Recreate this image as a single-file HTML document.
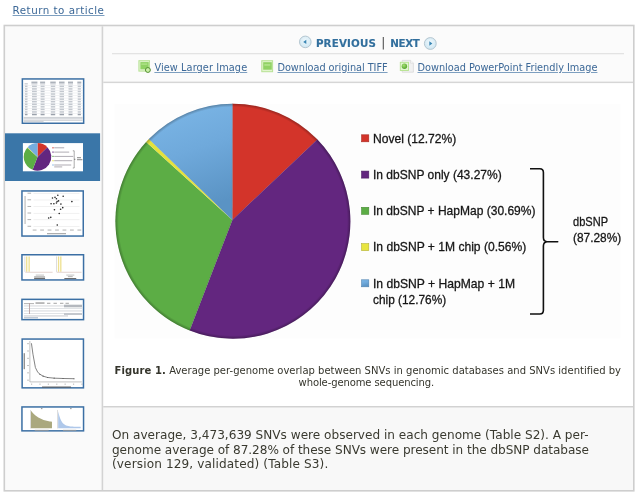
<!DOCTYPE html>
<html>
<head>
<meta charset="utf-8">
<title>Figure 1</title>
<style>
html,body{margin:0;padding:0;background:#fff;}
body{width:640px;height:498px;position:relative;overflow:hidden;font-family:"DejaVu Sans","Liberation Sans",sans-serif;}
a{color:#3c6897;text-decoration:underline;}
.abs{position:absolute;white-space:nowrap;}
#ret{left:12.6px;top:3.3px;font-size:10.3px;line-height:14px;letter-spacing:0.5px;text-decoration-color:#7d9fc0;text-underline-offset:1.2px;text-decoration-thickness:1px;}
.lnk{font-size:9.75px;line-height:12px;top:62.1px;text-decoration-color:#7d9fc0;text-decoration-thickness:1px;text-underline-offset:1px;}
.nav{font-size:10.3px;line-height:13px;font-weight:bold;color:#326f9d;top:36.6px;-webkit-text-stroke:0.12px #326f9d;}
.cap{font-size:10px;line-height:13px;color:#35352c;}
.txt{font-size:12.1px;line-height:14.5px;color:#3a3a30;}
</style>
</head>
<body>
<a class="abs" id="ret">Return to article</a>
<svg class="abs" style="left:0;top:0" width="640" height="498" viewBox="0 0 640 498">
  <rect x="5.1" y="26.3" width="96.5" height="463.7" fill="#fafafa"/>
  <rect x="103.2" y="26.3" width="529.8" height="55.3" fill="#fbfbfb"/>
  <rect x="103.2" y="407.5" width="529.8" height="82.5" fill="#f8f8f8"/>
  <rect x="101.6" y="26.3" width="1.6" height="463.7" fill="#d3d3d3"/>
  <rect x="103.2" y="81.6" width="529.8" height="1.5" fill="#d6d6d6"/>
  <rect x="112" y="53.2" width="512" height="1" fill="#dcdcdc"/>
  <rect x="103.2" y="406" width="529.8" height="1.5" fill="#d2d2d2"/>
  <rect x="4.3" y="25.5" width="629.5" height="465.3" fill="none" stroke="#cecece" stroke-width="1.6"/>
</svg>

<span class="abs nav" id="prev" style="left:315.9px;letter-spacing:0.17px">PREVIOUS</span>
<span class="abs" id="bar" style="left:381.2px;top:36px;font-size:12px;line-height:14px;color:#444">|</span>
<span class="abs nav" id="next" style="left:390.3px;letter-spacing:-0.38px">NEXT</span>

<a class="abs lnk" id="l1" style="left:154.4px;letter-spacing:0.09px">View Larger Image</a>
<a class="abs lnk" id="l2" style="left:277.5px;letter-spacing:-0.05px">Download original TIFF</a>
<a class="abs lnk" id="l3" style="left:417.5px;letter-spacing:-0.015px">Download PowerPoint Friendly Image</a>
<svg class="abs" style="left:100px;top:26px" width="540" height="60" viewBox="100 26 540 60">
  <defs>
    <radialGradient id="cg" cx="0.5" cy="0.4" r="0.6">
      <stop offset="0" stop-color="#eef8fc"/>
      <stop offset="1" stop-color="#cfe6f2"/>
    </radialGradient>
    <radialGradient id="ball" cx="0.4" cy="0.35" r="0.7">
      <stop offset="0" stop-color="#a5e070"/>
      <stop offset="1" stop-color="#4fa02a"/>
    </radialGradient>
  </defs>
  <!-- prev / next round buttons -->
  <circle cx="305.3" cy="41.9" r="5.8" fill="url(#cg)" stroke="#b4c6d0" stroke-width="1"/>
  <path d="M306.3 39.7 L306.3 44.1 L303.2 41.9 Z" fill="#3a86b4"/>
  <circle cx="430.3" cy="43.5" r="5.9" fill="url(#cg)" stroke="#b4c6d0" stroke-width="1"/>
  <path d="M429.3 41.3 L429.3 45.7 L432.4 43.5 Z" fill="#3a86b4"/>
  <!-- view larger image -->
  <rect x="138.9" y="60.7" width="10.6" height="10.4" fill="#e2f5cf" stroke="#b7e294" stroke-width="1"/>
  <rect x="140.4" y="62.1" width="8.3" height="7.2" fill="#90d264"/>
  <rect x="141.3" y="63.5" width="6" height="1.2" fill="#b4e58e"/>
  <circle cx="147.9" cy="70" r="2.45" fill="#cbf1a8" stroke="#528f30" stroke-width="1"/>
  <!-- download tiff -->
  <rect x="261.8" y="60.7" width="10.8" height="11" fill="#e2f5cf" stroke="#b7e294" stroke-width="1"/>
  <rect x="263.2" y="62.2" width="8.6" height="7.5" fill="#90d264"/>
  <rect x="264.3" y="64.3" width="6" height="1.3" fill="#b9e896"/>
  <!-- download ppt -->
  <path d="M402.2 60.4 H410.6 L413.4 63.2 V72.2 H402.2 Z" fill="#f1f1f1" stroke="#d9d9d9" stroke-width="0.8"/>
  <path d="M410.6 60.4 V63.2 H413.4" fill="#fafafa" stroke="#d4d4d4" stroke-width="0.6"/>
  <rect x="400.3" y="62.3" width="8.2" height="8.2" fill="#e3f6d1" stroke="#b5e38e" stroke-width="0.9"/>
  <circle cx="404.4" cy="66.3" r="2.7" fill="url(#ball)"/>
</svg>

<svg class="abs" style="left:0;top:0" width="110" height="498" viewBox="0 0 110 498">
<rect x="5" y="133.3" width="95.1" height="47.7" fill="#3a76a8"/>
<rect x="22.35" y="78.95" width="61.30" height="44.30" fill="#fff" stroke="#3b6fa4" stroke-width="1.5"/>
<rect x="31.40" y="81.6" width="6.0" height="1.3" fill="#a4aab3"/>
<rect x="40.10" y="81.6" width="5.0" height="1.3" fill="#a4aab3"/>
<rect x="50.25" y="81.6" width="5.5" height="1.3" fill="#a4aab3"/>
<rect x="59.05" y="81.6" width="5.5" height="1.3" fill="#a4aab3"/>
<rect x="68.00" y="81.6" width="5.0" height="1.3" fill="#a4aab3"/>
<rect x="77.30" y="81.6" width="4.0" height="1.3" fill="#a4aab3"/>
<rect x="24.60" y="83.3" width="3.2" height="1.1" fill="#bcc1c9"/>
<rect x="31.40" y="83.3" width="6.0" height="1.1" fill="#bcc1c9"/>
<rect x="40.10" y="83.3" width="5.0" height="1.1" fill="#bcc1c9"/>
<rect x="50.25" y="83.3" width="5.5" height="1.1" fill="#bcc1c9"/>
<rect x="59.05" y="83.3" width="5.5" height="1.1" fill="#bcc1c9"/>
<rect x="68.00" y="83.3" width="5.0" height="1.1" fill="#bcc1c9"/>
<rect x="77.30" y="83.3" width="4.0" height="1.1" fill="#bcc1c9"/>
<rect x="23.6" y="85.05" width="59" height="0.5" fill="#e2e5e9"/>
<rect x="24.92" y="85.60" width="2.6" height="1.5" fill="#c3c8cf"/>
<rect x="32.00" y="85.60" width="4.8" height="1.5" fill="#c3c8cf"/>
<rect x="40.60" y="85.60" width="4.0" height="1.5" fill="#c3c8cf"/>
<rect x="50.80" y="85.60" width="4.4" height="1.5" fill="#c3c8cf"/>
<rect x="59.60" y="85.60" width="4.4" height="1.5" fill="#c3c8cf"/>
<rect x="68.50" y="85.60" width="4.0" height="1.5" fill="#c3c8cf"/>
<rect x="77.70" y="85.60" width="3.2" height="1.5" fill="#c3c8cf"/>
<rect x="23.6" y="87.61" width="59" height="0.5" fill="#e2e5e9"/>
<rect x="24.92" y="88.16" width="2.6" height="1.5" fill="#c3c8cf"/>
<rect x="32.00" y="88.16" width="4.8" height="1.5" fill="#c3c8cf"/>
<rect x="40.60" y="88.16" width="4.0" height="1.5" fill="#c3c8cf"/>
<rect x="50.80" y="88.16" width="4.4" height="1.5" fill="#c3c8cf"/>
<rect x="59.60" y="88.16" width="4.4" height="1.5" fill="#c3c8cf"/>
<rect x="68.50" y="88.16" width="4.0" height="1.5" fill="#c3c8cf"/>
<rect x="77.70" y="88.16" width="3.2" height="1.5" fill="#c3c8cf"/>
<rect x="23.6" y="90.17" width="59" height="0.5" fill="#e2e5e9"/>
<rect x="24.92" y="90.72" width="2.6" height="1.5" fill="#c3c8cf"/>
<rect x="32.00" y="90.72" width="4.8" height="1.5" fill="#c3c8cf"/>
<rect x="40.60" y="90.72" width="4.0" height="1.5" fill="#c3c8cf"/>
<rect x="50.80" y="90.72" width="4.4" height="1.5" fill="#c3c8cf"/>
<rect x="59.60" y="90.72" width="4.4" height="1.5" fill="#c3c8cf"/>
<rect x="68.50" y="90.72" width="4.0" height="1.5" fill="#c3c8cf"/>
<rect x="77.70" y="90.72" width="3.2" height="1.5" fill="#c3c8cf"/>
<rect x="23.6" y="92.73" width="59" height="0.5" fill="#e2e5e9"/>
<rect x="24.92" y="93.28" width="2.6" height="1.5" fill="#c3c8cf"/>
<rect x="32.00" y="93.28" width="4.8" height="1.5" fill="#c3c8cf"/>
<rect x="40.60" y="93.28" width="4.0" height="1.5" fill="#c3c8cf"/>
<rect x="50.80" y="93.28" width="4.4" height="1.5" fill="#c3c8cf"/>
<rect x="59.60" y="93.28" width="4.4" height="1.5" fill="#c3c8cf"/>
<rect x="68.50" y="93.28" width="4.0" height="1.5" fill="#c3c8cf"/>
<rect x="77.70" y="93.28" width="3.2" height="1.5" fill="#c3c8cf"/>
<rect x="23.6" y="95.29" width="59" height="0.5" fill="#e2e5e9"/>
<rect x="24.92" y="95.84" width="2.6" height="1.5" fill="#c3c8cf"/>
<rect x="32.00" y="95.84" width="4.8" height="1.5" fill="#c3c8cf"/>
<rect x="40.60" y="95.84" width="4.0" height="1.5" fill="#c3c8cf"/>
<rect x="50.80" y="95.84" width="4.4" height="1.5" fill="#c3c8cf"/>
<rect x="59.60" y="95.84" width="4.4" height="1.5" fill="#c3c8cf"/>
<rect x="68.50" y="95.84" width="4.0" height="1.5" fill="#c3c8cf"/>
<rect x="77.70" y="95.84" width="3.2" height="1.5" fill="#c3c8cf"/>
<rect x="23.6" y="97.85" width="59" height="0.5" fill="#e2e5e9"/>
<rect x="24.92" y="98.40" width="2.6" height="1.5" fill="#c3c8cf"/>
<rect x="32.00" y="98.40" width="4.8" height="1.5" fill="#c3c8cf"/>
<rect x="40.60" y="98.40" width="4.0" height="1.5" fill="#c3c8cf"/>
<rect x="50.80" y="98.40" width="4.4" height="1.5" fill="#c3c8cf"/>
<rect x="59.60" y="98.40" width="4.4" height="1.5" fill="#c3c8cf"/>
<rect x="68.50" y="98.40" width="4.0" height="1.5" fill="#c3c8cf"/>
<rect x="77.70" y="98.40" width="3.2" height="1.5" fill="#c3c8cf"/>
<rect x="23.6" y="100.41" width="59" height="0.5" fill="#e2e5e9"/>
<rect x="24.92" y="100.96" width="2.6" height="1.5" fill="#c3c8cf"/>
<rect x="32.00" y="100.96" width="4.8" height="1.5" fill="#c3c8cf"/>
<rect x="40.60" y="100.96" width="4.0" height="1.5" fill="#c3c8cf"/>
<rect x="50.80" y="100.96" width="4.4" height="1.5" fill="#c3c8cf"/>
<rect x="59.60" y="100.96" width="4.4" height="1.5" fill="#c3c8cf"/>
<rect x="68.50" y="100.96" width="4.0" height="1.5" fill="#c3c8cf"/>
<rect x="77.70" y="100.96" width="3.2" height="1.5" fill="#c3c8cf"/>
<rect x="23.6" y="102.97" width="59" height="0.5" fill="#e2e5e9"/>
<rect x="24.92" y="103.52" width="2.6" height="1.5" fill="#c3c8cf"/>
<rect x="32.00" y="103.52" width="4.8" height="1.5" fill="#c3c8cf"/>
<rect x="40.60" y="103.52" width="4.0" height="1.5" fill="#c3c8cf"/>
<rect x="50.80" y="103.52" width="4.4" height="1.5" fill="#c3c8cf"/>
<rect x="59.60" y="103.52" width="4.4" height="1.5" fill="#c3c8cf"/>
<rect x="68.50" y="103.52" width="4.0" height="1.5" fill="#c3c8cf"/>
<rect x="77.70" y="103.52" width="3.2" height="1.5" fill="#c3c8cf"/>
<rect x="23.6" y="105.53" width="59" height="0.5" fill="#e2e5e9"/>
<rect x="24.92" y="106.08" width="2.6" height="1.5" fill="#c3c8cf"/>
<rect x="32.00" y="106.08" width="4.8" height="1.5" fill="#c3c8cf"/>
<rect x="40.60" y="106.08" width="4.0" height="1.5" fill="#c3c8cf"/>
<rect x="50.80" y="106.08" width="4.4" height="1.5" fill="#c3c8cf"/>
<rect x="59.60" y="106.08" width="4.4" height="1.5" fill="#c3c8cf"/>
<rect x="68.50" y="106.08" width="4.0" height="1.5" fill="#c3c8cf"/>
<rect x="77.70" y="106.08" width="3.2" height="1.5" fill="#c3c8cf"/>
<rect x="23.6" y="108.09" width="59" height="0.5" fill="#e2e5e9"/>
<rect x="24.92" y="108.64" width="2.6" height="1.5" fill="#c3c8cf"/>
<rect x="32.00" y="108.64" width="4.8" height="1.5" fill="#c3c8cf"/>
<rect x="40.60" y="108.64" width="4.0" height="1.5" fill="#c3c8cf"/>
<rect x="50.80" y="108.64" width="4.4" height="1.5" fill="#c3c8cf"/>
<rect x="59.60" y="108.64" width="4.4" height="1.5" fill="#c3c8cf"/>
<rect x="68.50" y="108.64" width="4.0" height="1.5" fill="#c3c8cf"/>
<rect x="77.70" y="108.64" width="3.2" height="1.5" fill="#c3c8cf"/>
<rect x="23.6" y="110.65" width="59" height="0.5" fill="#e2e5e9"/>
<rect x="24.92" y="111.20" width="2.6" height="1.5" fill="#c3c8cf"/>
<rect x="32.00" y="111.20" width="4.8" height="1.5" fill="#c3c8cf"/>
<rect x="40.60" y="111.20" width="4.0" height="1.5" fill="#c3c8cf"/>
<rect x="50.80" y="111.20" width="4.4" height="1.5" fill="#c3c8cf"/>
<rect x="59.60" y="111.20" width="4.4" height="1.5" fill="#c3c8cf"/>
<rect x="68.50" y="111.20" width="4.0" height="1.5" fill="#c3c8cf"/>
<rect x="77.70" y="111.20" width="3.2" height="1.5" fill="#c3c8cf"/>
<rect x="23.6" y="113.21" width="59" height="0.5" fill="#e2e5e9"/>
<rect x="24.92" y="113.76" width="2.6" height="1.5" fill="#9aa1ab"/>
<rect x="32.00" y="113.76" width="4.8" height="1.5" fill="#9aa1ab"/>
<rect x="40.60" y="113.76" width="4.0" height="1.5" fill="#9aa1ab"/>
<rect x="50.80" y="113.76" width="4.4" height="1.5" fill="#9aa1ab"/>
<rect x="59.60" y="113.76" width="4.4" height="1.5" fill="#9aa1ab"/>
<rect x="68.50" y="113.76" width="4.0" height="1.5" fill="#9aa1ab"/>
<rect x="77.70" y="113.76" width="3.2" height="1.5" fill="#9aa1ab"/>
<rect x="23.6" y="116.90" width="59.0" height="0.9" fill="#c4c8ce"/>
<rect x="23.6" y="118.35" width="59.0" height="0.9" fill="#c4c8ce"/>
<rect x="23.6" y="119.80" width="59.0" height="0.9" fill="#c4c8ce"/>
<rect x="23.6" y="121.25" width="20.0" height="0.9" fill="#c4c8ce"/>
<rect x="22.9" y="143.1" width="60.1" height="28.2" fill="#fff"/>
<path d="M37.50 156.90 L37.50 143.10 A13.80 13.80 0 0 1 47.39 147.28 Z" fill="#d3342a"/>
<path d="M37.50 156.90 L47.39 147.28 A13.80 13.80 0 0 1 32.55 169.78 Z" fill="#63267f"/>
<path d="M37.50 156.90 L32.55 169.78 A13.80 13.80 0 0 1 27.24 147.67 Z" fill="#5cad45"/>
<path d="M37.50 156.90 L27.24 147.67 A13.80 13.80 0 0 1 27.66 147.23 Z" fill="#e4e23c"/>
<path d="M37.50 156.90 L27.66 147.23 A13.80 13.80 0 0 1 37.50 143.10 Z" fill="#74ade0"/>
<rect x="52.4" y="147.20" width="1.2" height="1.2" fill="#d3342a"/>
<rect x="54.2" y="147.30" width="10.0" height="1" fill="#b0acb4"/>
<rect x="52.4" y="151.50" width="1.2" height="1.2" fill="#63267f"/>
<rect x="54.2" y="151.60" width="15.0" height="1" fill="#b0acb4"/>
<rect x="52.4" y="155.80" width="1.2" height="1.2" fill="#5cad45"/>
<rect x="54.2" y="155.90" width="19.0" height="1" fill="#b0acb4"/>
<rect x="52.4" y="160.10" width="1.2" height="1.2" fill="#e4e23c"/>
<rect x="54.2" y="160.20" width="18.0" height="1" fill="#b0acb4"/>
<rect x="52.4" y="164.40" width="1.2" height="1.2" fill="#74ade0"/>
<rect x="54.2" y="164.50" width="17.0" height="1" fill="#b0acb4"/>
<rect x="54.2" y="166.4" width="8" height="1" fill="#b0acb4"/>
<path d="M72.8 150.8 H74.2 V159.3 H75.3 H74.2 V168 H72.8" fill="none" stroke="#555" stroke-width="0.5"/>
<rect x="77" y="157.3" width="4" height="0.9" fill="#777"/><rect x="77" y="159.3" width="5.4" height="0.9" fill="#777"/>
<rect x="21.95" y="190.95" width="61.30" height="45.10" fill="#fff" stroke="#3b6fa4" stroke-width="1.5"/>
<rect x="33.5" y="193.14" width="46" height="0.5" fill="#e3e3e3"/>
<rect x="27.5" y="192.74" width="3.6" height="0.9" fill="#aaa"/>
<rect x="33.5" y="199.75" width="46" height="0.5" fill="#e3e3e3"/>
<rect x="27.5" y="199.35" width="3.6" height="0.9" fill="#aaa"/>
<rect x="33.5" y="206.36" width="46" height="0.5" fill="#e3e3e3"/>
<rect x="27.5" y="205.96" width="3.6" height="0.9" fill="#aaa"/>
<rect x="33.5" y="212.97" width="46" height="0.5" fill="#e3e3e3"/>
<rect x="27.5" y="212.57" width="3.6" height="0.9" fill="#aaa"/>
<rect x="33.5" y="219.58" width="46" height="0.5" fill="#e3e3e3"/>
<rect x="27.5" y="219.18" width="3.6" height="0.9" fill="#aaa"/>
<rect x="33.5" y="226.19" width="46" height="0.5" fill="#e3e3e3"/>
<rect x="27.5" y="225.79" width="3.6" height="0.9" fill="#aaa"/>
<rect x="32.71" y="229.6" width="3.8" height="0.9" fill="#aaa"/>
<rect x="40.17" y="229.6" width="3.8" height="0.9" fill="#aaa"/>
<rect x="47.62" y="229.6" width="3.8" height="0.9" fill="#aaa"/>
<rect x="55.08" y="229.6" width="3.8" height="0.9" fill="#aaa"/>
<rect x="62.53" y="229.6" width="3.8" height="0.9" fill="#aaa"/>
<rect x="69.98" y="229.6" width="3.8" height="0.9" fill="#aaa"/>
<rect x="77.44" y="229.6" width="3.8" height="0.9" fill="#aaa"/>
<rect x="47" y="233.2" width="19" height="1" fill="#999"/>
<rect x="24.6" y="196" width="0.9" height="28" fill="#aaa"/>
<circle cx="57.82" cy="195.25" r="0.8" fill="#222"/>
<circle cx="63.16" cy="196.24" r="0.8" fill="#222"/>
<circle cx="52.48" cy="198.06" r="0.8" fill="#222"/>
<circle cx="55.01" cy="197.36" r="0.8" fill="#222"/>
<circle cx="56.41" cy="198.77" r="0.8" fill="#222"/>
<circle cx="58.52" cy="200.88" r="0.8" fill="#222"/>
<circle cx="57.12" cy="201.58" r="0.8" fill="#222"/>
<circle cx="71.88" cy="201.58" r="0.8" fill="#222"/>
<circle cx="51.07" cy="203.69" r="0.8" fill="#222"/>
<circle cx="53.88" cy="203.69" r="0.8" fill="#222"/>
<circle cx="56.41" cy="202.99" r="0.8" fill="#222"/>
<circle cx="60.91" cy="204.11" r="0.8" fill="#222"/>
<circle cx="62.74" cy="207.63" r="0.8" fill="#222"/>
<circle cx="60.63" cy="209.32" r="0.8" fill="#222"/>
<circle cx="54.44" cy="209.74" r="0.8" fill="#222"/>
<circle cx="59.23" cy="213.54" r="0.8" fill="#222"/>
<circle cx="50.79" cy="217.33" r="0.8" fill="#222"/>
<circle cx="48.68" cy="218.04" r="0.8" fill="#222"/>
<circle cx="57.26" cy="225.07" r="0.8" fill="#222"/>
<rect x="21.95" y="254.75" width="61.60" height="25.20" fill="#fff" stroke="#3b6fa4" stroke-width="1.5"/>
<rect x="26.08" y="256.45" width="1.29" height="15.27" fill="#eee08f"/>
<rect x="28.49" y="256.45" width="1.29" height="15.27" fill="#eee08f"/>
<rect x="57.91" y="256.45" width="1.29" height="15.27" fill="#eee08f"/>
<rect x="60.16" y="256.45" width="1.29" height="15.27" fill="#eee08f"/>
<rect x="25.27" y="271.88" width="27.33" height="0.5" fill="#c9a9a0"/>
<rect x="24.67" y="256.45" width="0.5" height="15.43" fill="#bbb"/>
<rect x="56.62" y="271.88" width="24.92" height="0.5" fill="#c9a9a0"/>
<rect x="56.02" y="256.45" width="0.5" height="15.43" fill="#bbb"/>
<rect x="35.72" y="274.62" width="8.36" height="0.9" fill="#bbb"/>
<rect x="34.12" y="276.55" width="10.93" height="0.9" fill="#777"/>
<rect x="34.12" y="278.15" width="10.93" height="0.9" fill="#555"/>
<rect x="66.27" y="274.62" width="8.04" height="0.9" fill="#bbb"/>
<rect x="67.88" y="276.23" width="4.82" height="0.9" fill="#aaa"/>
<rect x="64.34" y="278.15" width="11.90" height="0.9" fill="#555"/>
<rect x="21.95" y="299.35" width="61.60" height="20.30" fill="#fff" stroke="#3b6fa4" stroke-width="1.5"/>
<rect x="24" y="303.20" width="10.0" height="0.9" fill="#aaa"/>
<rect x="24" y="305.50" width="58.0" height="0.9" fill="#cfd3d8"/>
<rect x="24" y="308.00" width="58.0" height="0.9" fill="#dde0e4"/>
<rect x="24" y="310.50" width="58.0" height="0.9" fill="#cfd3d8"/>
<rect x="24" y="313.00" width="58.0" height="0.9" fill="#dde0e4"/>
<rect x="24" y="315.50" width="44.0" height="0.9" fill="#c0c4ca"/>
<rect x="24" y="317.40" width="14.0" height="0.9" fill="#9ab"/>
<rect x="35.5" y="302.4" width="9" height="1.3" fill="#999"/>
<rect x="47.0" y="302.8" width="3.4" height="0.9" fill="#999"/>
<rect x="53.5" y="302.8" width="3.4" height="0.9" fill="#999"/>
<rect x="60.0" y="302.8" width="3.4" height="0.9" fill="#999"/>
<rect x="65.5" y="302.8" width="3.4" height="0.9" fill="#999"/>
<rect x="64" y="304.7" width="18" height="2.6" fill="#b4b8be"/><rect x="64" y="313" width="18" height="2" fill="#c4c8ce"/>
<rect x="29" y="303" width="0.9" height="11" fill="#b8a0a0"/>
<rect x="22.15" y="339.05" width="61.30" height="48.80" fill="#fff" stroke="#3b6fa4" stroke-width="1.5"/>
<path d="M29.88 341.04 V381.91 H81.79" fill="none" stroke="#999" stroke-width="0.6"/>
<path d="M31.43 343.25 L32.97 354.30 L35.40 367.55 L37.61 371.97 L39.82 374.18 L43.13 376.17 L47.55 377.49 L54.18 378.16 L63.02 378.49 L74.06 378.71" fill="none" stroke="#5a5a5a" stroke-width="0.75"/>
<circle cx="39.82" cy="374.18" r="0.55" fill="#555"/>
<circle cx="43.13" cy="376.17" r="0.55" fill="#555"/>
<circle cx="47.55" cy="377.49" r="0.55" fill="#555"/>
<circle cx="54.18" cy="378.16" r="0.55" fill="#555"/>
<circle cx="63.02" cy="378.49" r="0.55" fill="#555"/>
<circle cx="74.06" cy="378.71" r="0.55" fill="#555"/>
<rect x="30.99" y="383.68" width="1.2" height="0.9" fill="#aaa"/>
<rect x="39.38" y="383.68" width="1.2" height="0.9" fill="#aaa"/>
<rect x="47.77" y="383.68" width="1.2" height="0.9" fill="#aaa"/>
<rect x="56.17" y="383.68" width="1.2" height="0.9" fill="#aaa"/>
<rect x="64.56" y="383.68" width="1.2" height="0.9" fill="#aaa"/>
<rect x="72.96" y="383.68" width="1.2" height="0.9" fill="#aaa"/>
<rect x="81.35" y="383.68" width="1.2" height="0.9" fill="#aaa"/>
<rect x="27.23" y="343.25" width="1.6" height="0.9" fill="#aaa"/>
<rect x="27.23" y="350.54" width="1.6" height="0.9" fill="#aaa"/>
<rect x="27.23" y="357.83" width="1.6" height="0.9" fill="#aaa"/>
<rect x="27.23" y="365.12" width="1.6" height="0.9" fill="#aaa"/>
<rect x="27.23" y="372.41" width="1.6" height="0.9" fill="#aaa"/>
<rect x="27.23" y="379.70" width="1.6" height="0.9" fill="#aaa"/>
<rect x="42.03" y="386.55" width="29" height="1" fill="#555"/>
<rect x="23.70" y="353.19" width="1" height="16" fill="#666"/>
<rect x="21.95" y="406.95" width="61.60" height="23.90" fill="#fff" stroke="#3b6fa4" stroke-width="1.5"/>
<path d="M30.99 428.30 L30.99 410.63 L32.03 411.97 L33.08 413.17 L34.13 414.24 L35.18 415.19 L36.23 416.04 L37.28 416.79 L38.33 417.47 L39.38 418.07 L40.43 418.60 L41.48 419.08 L42.53 419.51 L43.58 419.89 L44.63 420.22 L45.67 420.52 L46.72 420.79 L47.77 421.03 L48.82 421.25 L49.87 421.44 L50.92 421.61 L51.97 421.76 L51.97 428.30 Z" fill="#aaa87e"/>
<path d="M58.16 428.30 L58.16 411.29 L59.28 415.86 L60.41 419.07 L61.54 421.34 L62.66 422.94 L63.79 424.07 L64.91 424.86 L66.04 425.42 L67.17 425.81 L68.29 426.09 L69.42 426.29 L70.55 426.42 L71.67 426.52 L72.80 426.59 L73.93 426.64 L75.05 426.67 L76.18 426.70 L77.31 426.71 L78.43 426.72 L79.56 426.73 L80.69 426.74 L80.69 428.30 Z" fill="#afc8ea"/>
<rect x="30.32" y="409.96" width="0.5" height="18.5" fill="#bbb"/>
<rect x="57.27" y="409.96" width="0.5" height="18.5" fill="#bbb"/>
<rect x="34.74" y="429.85" width="13.92" height="0.9" fill="#999"/>
<rect x="63.02" y="429.85" width="13.25" height="0.9" fill="#999"/>
<rect x="40.93" y="408.20" width="1.5" height="0.9" fill="#888"/>
<rect x="70.08" y="408.20" width="1.5" height="0.9" fill="#888"/>
</svg>
<svg class="abs" style="left:0;top:0" width="640" height="498" viewBox="0 0 640 498">
  <defs>
    <linearGradient id="gb" x1="0" y1="0" x2="0.25" y2="1">
      <stop offset="0" stop-color="#7db8e8"/>
      <stop offset="0.5" stop-color="#6fa9db"/>
      <stop offset="1" stop-color="#5a93c4"/>
    </linearGradient>
    <radialGradient id="bev" cx="232.9" cy="221.2" r="117.5" gradientUnits="userSpaceOnUse">
      <stop offset="0" stop-color="#000" stop-opacity="0"/>
      <stop offset="0.972" stop-color="#000" stop-opacity="0"/>
      <stop offset="0.992" stop-color="#000" stop-opacity="0.2"/>
      <stop offset="1" stop-color="#000" stop-opacity="0.3"/>
    </radialGradient>
  </defs>
  <rect x="114.5" y="103.9" width="506" height="234.6" fill="#fdfdfd"/>
  <g id="pie">
<path d="M232.40 219.90 L232.49 103.70 A117.50 117.50 0 0 1 317.42 139.58 Z" fill="#d3342a"/>
<path d="M232.40 219.90 L317.42 139.58 A117.50 117.50 0 0 1 189.65 330.45 Z" fill="#63267f"/>
<path d="M232.40 219.90 L189.65 330.45 A117.50 117.50 0 0 1 146.13 141.97 Z" fill="#5cad45"/>
<path d="M232.40 219.90 L146.13 141.97 A117.50 117.50 0 0 1 148.95 138.99 Z" fill="#e4e23c"/>
<path d="M232.40 219.90 L148.95 138.99 A117.50 117.50 0 0 1 232.49 103.70 Z" fill="url(#gb)"/>
<line x1="232.40" y1="219.90" x2="232.49" y2="103.70" stroke="#7a2a2a" stroke-opacity="0.35" stroke-width="0.8"/>
<line x1="232.40" y1="219.90" x2="317.42" y2="139.58" stroke="#4a1a60" stroke-opacity="0.30" stroke-width="0.8"/>
<line x1="232.40" y1="219.90" x2="189.65" y2="330.45" stroke="#3f2060" stroke-opacity="0.30" stroke-width="0.8"/>
<line x1="232.40" y1="219.90" x2="148.95" y2="138.99" stroke="#4a80b0" stroke-opacity="0.25" stroke-width="0.8"/>
<circle cx="232.9" cy="221.2" r="117.5" fill="url(#bev)"/>
  </g>
  <g id="legend" font-family="'Liberation Sans',sans-serif" font-size="12.1" fill="#161616" stroke="#161616" stroke-width="0.28">
    <rect x="361.6" y="134.8" width="7.2" height="7" fill="#d3342a" stroke="#a82a22" stroke-width="0.6"/>
    <text x="373" y="142.5" textLength="83.2" lengthAdjust="spacingAndGlyphs">Novel (12.72%)</text>
    <rect x="361.6" y="171.1" width="7.2" height="7" fill="#63267f" stroke="#4a1c60" stroke-width="0.6"/>
    <text x="373" y="178.8" textLength="128.7" lengthAdjust="spacingAndGlyphs">In dbSNP only (43.27%)</text>
    <rect x="361.6" y="207.3" width="7.2" height="7" fill="#5cad45" stroke="#468a34" stroke-width="0.6"/>
    <text x="373" y="215" textLength="162.5" lengthAdjust="spacingAndGlyphs">In dbSNP + HapMap (30.69%)</text>
    <rect x="361.6" y="243.6" width="7.2" height="7" fill="#e8e540" stroke="#b4b238" stroke-width="0.6"/>
    <text x="373" y="251.3" textLength="153.2" lengthAdjust="spacingAndGlyphs">In dbSNP + 1M chip (0.56%)</text>
    <rect x="361.6" y="279.8" width="7.2" height="7" fill="url(#gb)" stroke="#4f82b0" stroke-width="0.6"/>
    <text x="373" y="287.5" textLength="142" lengthAdjust="spacingAndGlyphs">In dbSNP + HapMap + 1M</text>
    <text x="373" y="304.3" textLength="73.2" lengthAdjust="spacingAndGlyphs">chip (12.76%)</text>
    <text x="573" y="225.5" textLength="35" lengthAdjust="spacingAndGlyphs">dbSNP</text>
    <text x="573" y="242" textLength="48.2" lengthAdjust="spacingAndGlyphs">(87.28%)</text>
  </g>
  <path d="M530 168.8 H539.8 Q543.4 168.8 543.4 172.6 V237.6 Q543.4 241.6 547.4 241.8 L557.7 241.8 L547.4 241.8 Q543.4 242 543.4 246 V310.2 Q543.4 314 539.8 314 H530" fill="none" stroke="#111" stroke-width="1.6" stroke-linejoin="round"/>
</svg>
<div class="abs cap" id="c1" style="left:114.6px;top:364.2px"><b style="letter-spacing:0.1px">Figure 1.</b> <span id="c1r" style="letter-spacing:0.012px">Average per-genome overlap between SNVs in genomic databases and SNVs identified by</span></div>
<div class="abs cap" id="c2" style="left:298.6px;top:375.9px;letter-spacing:-0.1px">whole-genome sequencing.</div>
<div class="abs txt" id="t1" style="left:112px;top:428.2px">On average, 3,473,639 SNVs were observed in each genome (Table S2). A per-</div>
<div class="abs txt" id="t2" style="left:112px;top:442.7px;letter-spacing:-0.058px">genome average of 87.28% of these SNVs were present in the dbSNP database</div>
<div class="abs txt" id="t3" style="left:112px;top:457.2px;letter-spacing:0.117px">(version 129, validated) (Table S3).</div>
</body>
</html>
